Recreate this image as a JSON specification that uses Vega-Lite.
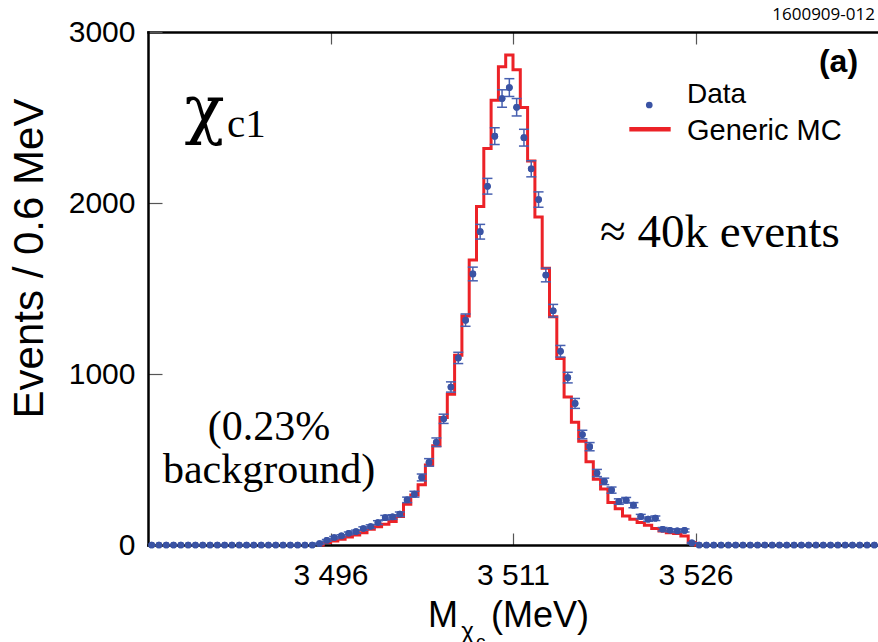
{
  "$schema": "https://vega.github.io/schema/vega-lite/v6.json",
  "width": 730,
  "height": 513,
  "autosize": {"type": "none"},
  "padding": {"left": 148, "top": 32, "right": 0, "bottom": 97},
  "background": "white",
  "view": {"stroke": null},
  "config": {
    "font": "Liberation Sans",
    "axis": {
      "labelFont": "Liberation Sans",
      "labelFontSize": 30,
      "labelColor": "black",
      "titleFont": "Liberation Sans",
      "titleFontSize": 42,
      "titleFontWeight": "normal",
      "titleColor": "black",
      "grid": false,
      "domainColor": "black",
      "domainWidth": 2.5,
      "domainCap": "square",
      "tickColor": "#555555",
      "tickWidth": 1.2
    }
  },
  "data": {
    "values": [
      {"m": 3481.3, "n": 0}, {"m": 3481.9, "n": 0}, {"m": 3482.5, "n": 0}, {"m": 3483.1, "n": 0}, {"m": 3483.7, "n": 0},
      {"m": 3484.3, "n": 0}, {"m": 3484.9, "n": 0}, {"m": 3485.5, "n": 0}, {"m": 3486.1, "n": 0}, {"m": 3486.7, "n": 0},
      {"m": 3487.3, "n": 0}, {"m": 3487.9, "n": 0}, {"m": 3488.5, "n": 0}, {"m": 3489.1, "n": 0}, {"m": 3489.7, "n": 0},
      {"m": 3490.3, "n": 0}, {"m": 3490.9, "n": 0}, {"m": 3491.5, "n": 0}, {"m": 3492.1, "n": 0}, {"m": 3492.7, "n": 0},
      {"m": 3493.3, "n": 0}, {"m": 3493.9, "n": 0}, {"m": 3494.5, "n": 0},
      {"m": 3495.1, "n": 8, "lo": 5, "hi": 11, "mc": 0},
      {"m": 3495.7, "n": 27, "lo": 22, "hi": 32, "mc": 14},
      {"m": 3496.3, "n": 43, "lo": 36, "hi": 50, "mc": 23},
      {"m": 3496.9, "n": 53, "lo": 46, "hi": 60, "mc": 33},
      {"m": 3497.5, "n": 68, "lo": 60, "hi": 76, "mc": 47},
      {"m": 3498.1, "n": 78, "lo": 69, "hi": 87, "mc": 59},
      {"m": 3498.7, "n": 96, "lo": 86, "hi": 106, "mc": 72},
      {"m": 3499.3, "n": 108, "lo": 98, "hi": 118, "mc": 92},
      {"m": 3499.9, "n": 131, "lo": 120, "hi": 142, "mc": 106},
      {"m": 3500.5, "n": 160, "lo": 147, "hi": 173, "mc": 121},
      {"m": 3501.1, "n": 164, "lo": 151, "hi": 177, "mc": 137},
      {"m": 3501.7, "n": 180, "lo": 167, "hi": 193, "mc": 166},
      {"m": 3502.3, "n": 264, "lo": 248, "hi": 280, "mc": 239},
      {"m": 3502.9, "n": 297, "lo": 280, "hi": 314, "mc": 292},
      {"m": 3503.5, "n": 395, "lo": 375, "hi": 415, "mc": 352},
      {"m": 3504.1, "n": 483, "lo": 461, "hi": 505, "mc": 468},
      {"m": 3504.7, "n": 601, "lo": 576, "hi": 626, "mc": 580},
      {"m": 3505.3, "n": 738, "lo": 711, "hi": 765, "mc": 745},
      {"m": 3505.9, "n": 924, "lo": 894, "hi": 954, "mc": 881},
      {"m": 3506.5, "n": 1094, "lo": 1061, "hi": 1127, "mc": 1110},
      {"m": 3507.1, "n": 1315, "lo": 1279, "hi": 1351, "mc": 1339},
      {"m": 3507.7, "n": 1585, "lo": 1545, "hi": 1625, "mc": 1667},
      {"m": 3508.3, "n": 1832, "lo": 1789, "hi": 1875, "mc": 1980},
      {"m": 3508.9, "n": 2098, "lo": 2052, "hi": 2144, "mc": 2319},
      {"m": 3509.5, "n": 2391, "lo": 2342, "hi": 2440, "mc": 2601},
      {"m": 3510.1, "n": 2611, "lo": 2560, "hi": 2662, "mc": 2797},
      {"m": 3510.7, "n": 2675, "lo": 2623, "hi": 2727, "mc": 2865},
      {"m": 3511.3, "n": 2560, "lo": 2509, "hi": 2611, "mc": 2779},
      {"m": 3511.9, "n": 2382, "lo": 2333, "hi": 2431, "mc": 2558},
      {"m": 3512.5, "n": 2200, "lo": 2153, "hi": 2247, "mc": 2245},
      {"m": 3513.1, "n": 2020, "lo": 1975, "hi": 2065, "mc": 1918},
      {"m": 3513.7, "n": 1579, "lo": 1539, "hi": 1619, "mc": 1619},
      {"m": 3514.3, "n": 1370, "lo": 1333, "hi": 1407, "mc": 1335},
      {"m": 3514.9, "n": 1133, "lo": 1099, "hi": 1167, "mc": 1090},
      {"m": 3515.5, "n": 979, "lo": 948, "hi": 1010, "mc": 865},
      {"m": 3516.1, "n": 828, "lo": 799, "hi": 857, "mc": 718},
      {"m": 3516.7, "n": 646, "lo": 621, "hi": 671, "mc": 607},
      {"m": 3517.3, "n": 575, "lo": 551, "hi": 599, "mc": 487},
      {"m": 3517.9, "n": 421, "lo": 400, "hi": 442, "mc": 385},
      {"m": 3518.5, "n": 372, "lo": 353, "hi": 391, "mc": 327},
      {"m": 3519.1, "n": 321, "lo": 303, "hi": 339, "mc": 249},
      {"m": 3519.7, "n": 254, "lo": 238, "hi": 270, "mc": 212},
      {"m": 3520.3, "n": 262, "lo": 246, "hi": 278, "mc": 170},
      {"m": 3520.9, "n": 233, "lo": 218, "hi": 248, "mc": 151},
      {"m": 3521.5, "n": 166, "lo": 153, "hi": 179, "mc": 131},
      {"m": 3522.1, "n": 151, "lo": 139, "hi": 163, "mc": 115},
      {"m": 3522.7, "n": 157, "lo": 144, "hi": 170, "mc": 97},
      {"m": 3523.3, "n": 92, "lo": 82, "hi": 102, "mc": 82},
      {"m": 3523.9, "n": 86, "lo": 77, "hi": 95, "mc": 72},
      {"m": 3524.5, "n": 82, "lo": 73, "hi": 91, "mc": 67},
      {"m": 3525.1, "n": 85, "lo": 76, "hi": 94, "mc": 53},
      {"m": 3525.7, "n": 12, "lo": 9, "hi": 15, "mc": 14},
      {"m": 3526.3, "n": 0, "mc": 0},
      {"m": 3526.9, "n": 0}, {"m": 3527.5, "n": 0}, {"m": 3528.1, "n": 0}, {"m": 3528.7, "n": 0},
      {"m": 3529.3, "n": 0}, {"m": 3529.9, "n": 0}, {"m": 3530.5, "n": 0}, {"m": 3531.1, "n": 0}, {"m": 3531.7, "n": 0},
      {"m": 3532.3, "n": 0}, {"m": 3532.9, "n": 0}, {"m": 3533.5, "n": 0}, {"m": 3534.1, "n": 0}, {"m": 3534.7, "n": 0},
      {"m": 3535.3, "n": 0}, {"m": 3535.9, "n": 0}, {"m": 3536.5, "n": 0}, {"m": 3537.1, "n": 0}, {"m": 3537.7, "n": 0},
      {"m": 3538.3, "n": 0}, {"m": 3538.9, "n": 0}, {"m": 3539.5, "n": 0}, {"m": 3540.1, "n": 0}, {"m": 3540.7, "n": 0}
    ]
  },
  "layer": [
    {
      "mark": {"type": "point", "filled": true, "size": 45, "color": "#3a53a4", "opacity": 1},
      "encoding": {
        "x": {
          "field": "m", "type": "quantitative",
          "scale": {"domain": [3481, 3541], "nice": false, "zero": false},
          "axis": {"orient": "bottom", "title": null, "values": [3496, 3511, 3526], "labelExpr": "replace(format(datum.value, ','), ',', ' ')", "tickSize": -12, "labelPadding": 27}
        },
        "y": {
          "field": "n", "type": "quantitative",
          "scale": {"domain": [0, 3000], "nice": false},
          "axis": {"orient": "left", "values": [0, 1000, 2000, 3000], "format": "d", "title": "Events / 0.6 MeV", "tickSize": -14, "labelPadding": 27, "titleX": -106, "titleY": 226, "titleAngle": 270, "titleBaseline": "alphabetic", "titleAlign": "center"}
        }
      }
    },
    {
      "transform": [{"filter": "isValid(datum.mc)"}],
      "mark": {"type": "line", "interpolate": "step", "color": "#ec2227", "strokeWidth": 3},
      "encoding": {
        "x": {
          "field": "m", "type": "quantitative",
          "axis": {"orient": "top", "labels": false, "title": null, "values": [3496, 3511, 3526], "tickSize": -12}
        },
        "y": {"field": "mc", "type": "quantitative", "axis": null}
      }
    },
    {
      "transform": [{"filter": "datum.n > 0"}],
      "mark": {"type": "rule", "color": "#4760b0", "strokeWidth": 1.5},
      "encoding": {
        "x": {"field": "m", "type": "quantitative", "axis": null},
        "y": {"field": "lo", "type": "quantitative", "axis": null},
        "y2": {"field": "hi"}
      }
    },
    {
      "transform": [{"filter": "datum.n > 0"}],
      "mark": {"type": "tick", "orient": "horizontal", "size": 10, "thickness": 1.5, "color": "#4760b0", "opacity": 1},
      "encoding": {
        "x": {"field": "m", "type": "quantitative", "axis": null},
        "y": {"field": "lo", "type": "quantitative", "axis": null}
      }
    },
    {
      "transform": [{"filter": "datum.n > 0"}],
      "mark": {"type": "tick", "orient": "horizontal", "size": 10, "thickness": 1.5, "color": "#4760b0", "opacity": 1},
      "encoding": {
        "x": {"field": "m", "type": "quantitative", "axis": null},
        "y": {"field": "hi", "type": "quantitative", "axis": null}
      }
    },
    {
      "mark": {"type": "point", "filled": true, "size": 45, "color": "#3a53a4", "opacity": 1},
      "encoding": {
        "x": {"field": "m", "type": "quantitative", "axis": null},
        "y": {"field": "n", "type": "quantitative", "axis": null}
      }
    },
    {
      "data": {"values": [{}]},
      "mark": {"type": "text", "text": "χ", "font": "DejaVu Serif", "fontSize": 66, "align": "left", "baseline": "alphabetic", "color": "black"},
      "encoding": {"x": {"datum": 3484.0, "type": "quantitative", "axis": null}, "y": {"datum": 2420, "type": "quantitative", "axis": null}}
    },
    {
      "data": {"values": [{}]},
      "mark": {"type": "text", "text": "c1", "font": "Liberation Serif", "fontSize": 41, "align": "left", "baseline": "alphabetic", "color": "black"},
      "encoding": {"x": {"datum": 3487.5, "type": "quantitative", "axis": null}, "y": {"datum": 2386, "type": "quantitative", "axis": null}}
    },
    {
      "data": {"values": [{}]},
      "mark": {"type": "text", "text": "(0.23%", "font": "Liberation Serif", "fontSize": 42, "align": "center", "baseline": "alphabetic", "color": "black"},
      "encoding": {"x": {"datum": 3490.95, "type": "quantitative", "axis": null}, "y": {"datum": 614, "type": "quantitative", "axis": null}}
    },
    {
      "data": {"values": [{}]},
      "mark": {"type": "text", "text": "background)", "font": "Liberation Serif", "fontSize": 42, "align": "center", "baseline": "alphabetic", "color": "black"},
      "encoding": {"x": {"datum": 3490.95, "type": "quantitative", "axis": null}, "y": {"datum": 363, "type": "quantitative", "axis": null}}
    },
    {
      "data": {"values": [{}]},
      "mark": {"type": "text", "text": "≈ 40k events", "font": "Liberation Serif", "fontSize": 47, "align": "left", "baseline": "alphabetic", "color": "black"},
      "encoding": {"x": {"datum": 3518.15, "type": "quantitative", "axis": null}, "y": {"datum": 1745, "type": "quantitative", "axis": null}}
    },
    {
      "data": {"values": [{}]},
      "mark": {"type": "text", "text": "(a)", "font": "Liberation Sans", "fontWeight": "bold", "fontSize": 32, "align": "right", "baseline": "alphabetic", "color": "black"},
      "encoding": {"x": {"datum": 3539.36, "type": "quantitative", "axis": null}, "y": {"datum": 2766, "type": "quantitative", "axis": null}}
    },
    {
      "data": {"values": [{}]},
      "mark": {"type": "point", "filled": true, "size": 45, "color": "#3a53a4", "opacity": 1},
      "encoding": {"x": {"datum": 3522.2, "type": "quantitative", "axis": null}, "y": {"datum": 2573, "type": "quantitative", "axis": null}}
    },
    {
      "data": {"values": [{}]},
      "mark": {"type": "rule", "color": "#ec2227", "strokeWidth": 4.5},
      "encoding": {"x": {"datum": 3520.56, "type": "quantitative", "axis": null}, "x2": {"datum": 3523.96}, "y": {"datum": 2431, "type": "quantitative", "axis": null}}
    },
    {
      "data": {"values": [{}]},
      "mark": {"type": "text", "text": "Data", "font": "Liberation Sans", "fontSize": 28, "align": "left", "baseline": "alphabetic", "color": "black"},
      "encoding": {"x": {"datum": 3525.3, "type": "quantitative", "axis": null}, "y": {"datum": 2582, "type": "quantitative", "axis": null}}
    },
    {
      "data": {"values": [{}]},
      "mark": {"type": "text", "text": "Generic MC", "font": "Liberation Sans", "fontSize": 29, "align": "left", "baseline": "alphabetic", "color": "black"},
      "encoding": {"x": {"datum": 3525.3, "type": "quantitative", "axis": null}, "y": {"datum": 2368, "type": "quantitative", "axis": null}}
    },
    {
      "data": {"values": [{}]},
      "mark": {"type": "text", "text": "1600909-012", "font": "Open Sans", "fontSize": 17, "align": "right", "baseline": "alphabetic", "color": "black"},
      "encoding": {"x": {"datum": 3540.75, "type": "quantitative", "axis": null}, "y": {"datum": 3070, "type": "quantitative", "axis": null}}
    },
    {
      "data": {"values": [{}]},
      "mark": {"type": "text", "text": "M", "font": "Liberation Sans", "fontSize": 36, "align": "left", "baseline": "alphabetic", "color": "black"},
      "encoding": {"x": {"datum": 3504.01, "type": "quantitative", "axis": null}, "y": {"datum": -479, "type": "quantitative", "axis": null}}
    },
    {
      "data": {"values": [{}]},
      "mark": {"type": "text", "text": "χ", "font": "Liberation Sans", "fontSize": 24, "align": "left", "baseline": "alphabetic", "color": "black"},
      "encoding": {"x": {"datum": 3506.75, "type": "quantitative", "axis": null}, "y": {"datum": -550, "type": "quantitative", "axis": null}}
    },
    {
      "data": {"values": [{}]},
      "mark": {"type": "text", "text": "c", "font": "Liberation Sans", "fontSize": 19, "align": "left", "baseline": "alphabetic", "color": "black"},
      "encoding": {"x": {"datum": 3507.95, "type": "quantitative", "axis": null}, "y": {"datum": -600, "type": "quantitative", "axis": null}}
    },
    {
      "data": {"values": [{}]},
      "mark": {"type": "text", "text": "(MeV)", "font": "Liberation Sans", "fontSize": 36, "align": "left", "baseline": "alphabetic", "color": "black"},
      "encoding": {"x": {"datum": 3509.2, "type": "quantitative", "axis": null}, "y": {"datum": -479, "type": "quantitative", "axis": null}}
    }
  ],
  "resolve": {"axis": {"x": "independent", "y": "independent"}}
}
